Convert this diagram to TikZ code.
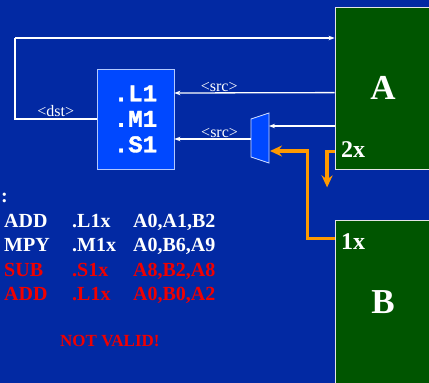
\documentclass[tikz,border=0pt]{standalone}
\usepackage{fontspec}
\setmainfont{Liberation Serif}
\setmonofont{Liberation Mono}[BoldFeatures={FakeBold=1.5}]
\usepackage{xcolor}
\usepackage{tikz}
\usetikzlibrary{arrows.meta, positioning, calc}
\definecolor{slideblue}{RGB}{2,41,163}
\definecolor{unitblue}{RGB}{0,72,255}
\definecolor{regfile}{RGB}{0,85,0}
\definecolor{xorange}{RGB}{255,153,0}
\definecolor{badred}{RGB}{240,0,0}

\begin{document}
\begin{tikzpicture}[
					x=1pt, y=-1pt,
					regbox/.style={rectangle, draw=white!80!gray, fill=regfile, line width=0.8pt, inner sep=0pt, text=white, font=\fontsize{35}{40}\selectfont\bfseries},
					unitbox/.style={rectangle, draw=white!70!unitblue, fill=unitblue, line width=0.8pt, minimum width=77pt, minimum height=100pt, align=left, text=white, font=\fontsize{24}{25.5}\selectfont\ttfamily\bfseries},
					wire/.style={draw=white, line width=1.3pt},
					arrow/.style={wire, -{Stealth[length=6pt, width=4.5pt]}},
					xarrow/.style={draw=xorange, line width=3.5pt, -{Stealth[length=12pt, width=11pt, inset=4pt]}},
					label/.style={text=white, font=\fontsize{16}{18}\selectfont, inner sep=1pt},
					count/.style={text=white, font=\fontsize{24}{26}\selectfont\bfseries, anchor=base west, inner sep=0pt},
					code/.style={font=\fontsize{20}{24}\selectfont\bfseries, anchor=base west, inner sep=0pt}
					]
					% Background
					\fill[slideblue] (0,0) rectangle (429,383);
					\clip (0,0) rectangle (429,383);
					
					% Register files and functional units
					\node[regbox, minimum width=96pt, minimum height=162pt] (boxA) at (383,88) {A};
					\node[regbox, minimum width=96pt, minimum height=165pt] (boxB) at (383,302.5) {B};
					\node[unitbox] (unit) at (135.5,119) {.L1\\.M1\\.S1};
					\node[count] (crossA) at (341,157) {2x};
					\node[count] (crossB) at (341,249) {1x};
					
					% Multiplexer
					\draw[draw=white!80!unitblue, fill=unitblue, line width=0.8pt] (251,119) -- (269,113) -- (269,163) -- (251,157) -- cycle;
					\coordinate (muxin) at (269,126);
					\coordinate (muxout) at (251,139);
					\coordinate (muxsel) at (270,151);
					\coordinate (fbtop) at (15,38);
					
					% Arrows
					\draw[wire, line width=2pt] (unit.west) -| (fbtop) node[pos=0.25, above, label] {<dst>};
					\draw[arrow] (fbtop) -- (fbtop -| boxA.west);
					\draw[arrow] ($(boxA.north west)+(0,86)$) -- ($(unit.east)+(0,-26)$) node[pos=0.72, above, label] {<src>};
					\draw[arrow] (boxA.west |- muxin) -- (muxin);
					\draw[arrow] (muxout) -- (unit.east |- muxout) node[pos=0.41, above, label] {<src>};
					
					% Cross paths
					\draw[xarrow] ($(boxB.north west)+(0,19)$) -| ($(muxsel)+(37.5,0)$) -- (muxsel);
					\draw[xarrow] ($(boxA.south west)+(0,-18)$) -- ++(-7.5,0) -- ++(0,36);
					
					% Code
					\node[code, text=white] (colon) at (1,202) {:};
					\node[code, text=white] (row1) at (4,227) {\makebox[68pt][l]{ADD}\makebox[61pt][l]{.L1x}A0,A1,B2};
					\node[code, text=white] (row2) at (4,251) {\makebox[68pt][l]{MPY}\makebox[61pt][l]{.M1x}A0,B6,A9};
					\node[code, text=badred] (row3) at (4,276) {\makebox[68pt][l]{SUB}\makebox[61pt][l]{.S1x}A8,B2,A8};
					\node[code, text=badred] (row4) at (4,300) {\makebox[68pt][l]{ADD}\makebox[61pt][l]{.L1x}A0,B0,A2};
					\node[code, text=badred, font=\fontsize{17}{20}\selectfont\bfseries] (verdict) at (60,346) {NOT VALID!};
				\end{tikzpicture}
\end{document}
